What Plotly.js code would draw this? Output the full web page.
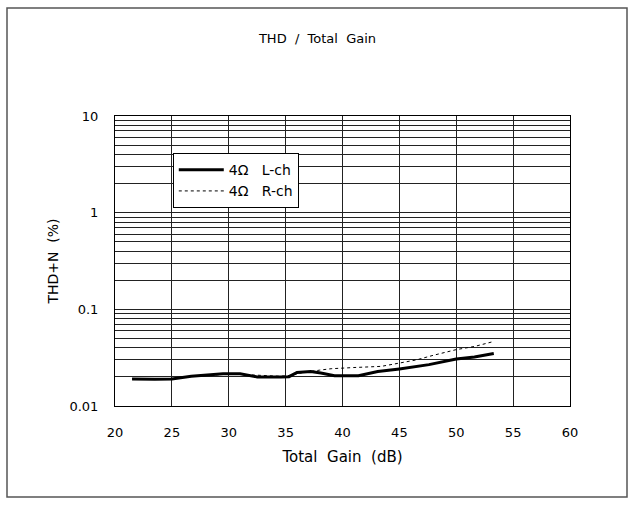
<!DOCTYPE html>
<html>
<head>
<meta charset="utf-8">
<script src="https://cdn.plot.ly/plotly-3.0.1.min.js"></script>
<style>html,body{margin:0;padding:0;background:#fff;}#chart{width:635px;height:506px;}</style>
</head>
<body>
<div id="chart"></div>
<script>
const gainL = [21.5, 22.5, 23.5, 25, 26, 26.7, 28.4, 29.5, 31, 32, 32.5, 34.6, 35.3, 36, 37.2, 38.1, 39.3, 41.4, 43.1, 45, 47.6, 50, 51.6, 53.3];
const thdL  = [0.0190, 0.0189, 0.0189, 0.0190, 0.0197, 0.0203, 0.0211, 0.0216, 0.0215, 0.0207, 0.0200, 0.0200, 0.0201, 0.0222, 0.0227, 0.0219, 0.0206, 0.0206, 0.0227, 0.0242, 0.0268, 0.0307, 0.0322, 0.0350];
const gainR = [21.5, 23, 25, 27, 29, 30, 31.5, 33, 34.5, 35.5, 36.5, 38, 39, 41, 43.4, 45, 46.5, 48, 50, 51.6, 53.3];
const thdR  = [0.0191, 0.0191, 0.0192, 0.0203, 0.0212, 0.0214, 0.0211, 0.0207, 0.0203, 0.0208, 0.0222, 0.0235, 0.0243, 0.0250, 0.0257, 0.0278, 0.0300, 0.0335, 0.0383, 0.0413, 0.0465];
const nameL = "4Ω   L-ch";
const nameR = "4Ω   R-ch";
const xTicks = [20, 25, 30, 35, 40, 45, 50, 55, 60];
const yMajor = [0.01, 0.1, 1, 10];
const yMajorText = ["0.01", "0.1", "1", "10"];

// gridline positions: majors labelled, 2..9 per decade unlabelled
const yTickVals = [], yTickText = [];
yMajor.forEach((d, i) => {
  yTickVals.push(d); yTickText.push(yMajorText[i]);
  if (i < yMajor.length - 1) for (let k = 2; k <= 9; k++) { yTickVals.push(+(d * k).toPrecision(3)); yTickText.push(""); }
});

const font = "DejaVu Sans, sans-serif";
const traces = [
  {x: gainL, y: thdL, name: nameL, mode: "lines", line: {color: "#000", width: 3}},
  {x: gainR, y: thdR, name: nameR, mode: "lines", line: {color: "#000", width: 1, dash: "3px,3px"}}
];
const layout = {
  width: 635, height: 506,
  margin: {l: 115, r: 65, t: 116, b: 100},
  paper_bgcolor: "#fff", plot_bgcolor: "#fff",
  font: {family: font, size: 13, color: "#000"},
  title: {text: "THD  /  Total  Gain", x: 0.5, xref: "container", xanchor: "center", y: 1 - 38/506, yanchor: "middle", font: {family: font, size: 13, color: "#000"}},
  xaxis: {
    range: [20, 60], tickvals: xTicks, ticks: "", showline: true, mirror: true, linecolor: "#000", linewidth: 1,
    showgrid: true, gridcolor: "#222", gridwidth: 1, zeroline: false,
    tickfont: {size: 13}, ticklabelstandoff: 14,
    title: {text: "Total  Gain  (dB)", standoff: 12, font: {size: 15}}
  },
  yaxis: {
    type: "log", range: [-2, 1], tickvals: yTickVals, ticktext: yTickText, ticks: "",
    showline: true, mirror: true, linecolor: "#000", linewidth: 1,
    showgrid: true, gridcolor: "#222", gridwidth: 1, zeroline: false,
    tickfont: {size: 13}, ticklabelstandoff: 13,
    title: {text: "THD+N  (%)", standoff: 7, font: {size: 14}}
  },
  showlegend: true,
  legend: {x: 0.127, y: 0.872, xanchor: "left", yanchor: "top", bgcolor: "#fff", bordercolor: "#000", borderwidth: 1,
    font: {family: font, size: 14}, itemwidth: 45, tracegroupgap: 0},
  shapes: [
    {type: "rect", xref: "paper", yref: "paper", x0: -108/455, x1: 512/455, y0: -91/290, y1: 398/290,
     line: {color: "#555", width: 1.5}, fillcolor: "rgba(0,0,0,0)", layer: "below"}
  ]
};
Plotly.newPlot("chart", traces, layout, {displayModeBar: false, staticPlot: true});
</script>
</body>
</html>
